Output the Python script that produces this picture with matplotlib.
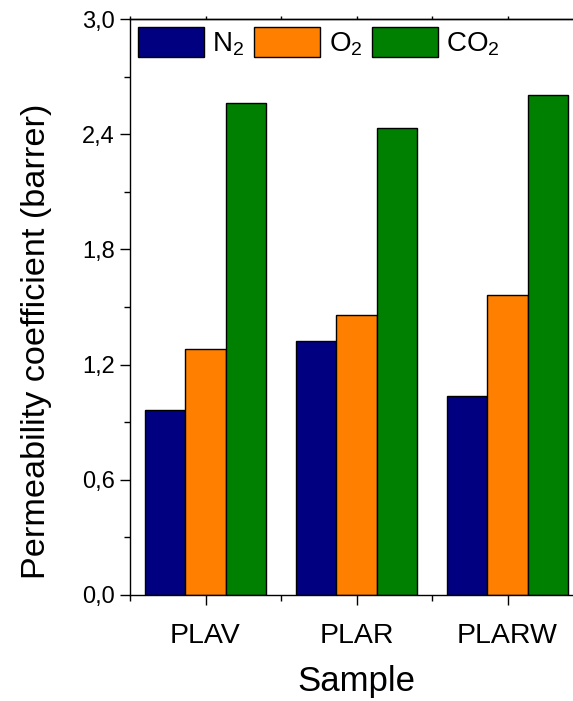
import numpy as np
import matplotlib.pyplot as plt
from matplotlib.ticker import MultipleLocator, FixedLocator

plt.rcParams['font.family'] = ['Liberation Sans', 'DejaVu Sans']
plt.rcParams['mathtext.fontset'] = 'custom'
plt.rcParams['mathtext.rm'] = 'Liberation Sans'

samples = ['PLAV', 'PLAR', 'PLARW']
gases = [r'$\mathregular{N_2}$', r'$\mathregular{O_2}$', r'$\mathregular{CO_2}$']
n2 = [0.965, 1.325, 1.036]
o2 = [1.283, 1.457, 1.564]
co2 = [2.564, 2.434, 2.603]
colors = ['#000080', '#FF8000', '#008000']

fig = plt.figure(figsize=(5.73, 7.01), dpi=100)
ax = fig.add_axes([130 / 573, 106 / 701, 453 / 573, 576 / 701])

x = np.arange(1, len(samples) + 1)
w = 0.8 / 3
for i, vals in enumerate([n2, o2, co2]):
    ax.bar(x + (i - 1) * w, vals, width=w, color=colors[i], edgecolor='black',
           linewidth=1.0, label=gases[i], zorder=2)

ax.set_xlim(0.5, 3.5)
ax.set_ylim(0, 3.0)
ax.set_xticks(x)
ax.set_xticklabels(samples)
ax.xaxis.set_minor_locator(FixedLocator([0.5, 1.5, 2.5, 3.5]))
ax.yaxis.set_major_locator(MultipleLocator(0.6))
ax.yaxis.set_minor_locator(MultipleLocator(0.3))
ax.yaxis.set_major_formatter(plt.FuncFormatter(lambda v, p: f'{v:.1f}'.replace('.', ',')))

ax.spines['right'].set_visible(False)
for s in ax.spines.values():
    s.set_linewidth(1.0)
ax.tick_params(axis='both', which='major', direction='out', length=7, width=1.0)
ax.tick_params(axis='both', which='minor', direction='out', length=4, width=1.0)
ax.tick_params(axis='x', which='major', labelsize=20.5, pad=13)
ax.tick_params(axis='y', which='major', labelsize=17, pad=4)

top = ax.secondary_xaxis('top')
top.set_xticks(x)
top.set_xticks([0.5, 1.5, 2.5, 3.5], minor=True)
top.tick_params(which='both', direction='out', length=2, width=1.0, labeltop=False)
top.spines['top'].set_linewidth(1.0)

ax.set_xlabel('Sample', fontsize=25, labelpad=12)
ax.set_ylabel('Permeability coefficient (barrer)', fontsize=24.7)
ax.yaxis.set_label_coords(-0.172, 0.441)

ax.legend(loc='upper left', bbox_to_anchor=(0.0, 1.0), ncol=3, frameon=False,
          fontsize=20, handlelength=2.37, handleheight=1.25, handletextpad=0.3,
          columnspacing=0.35, borderaxespad=0.2, borderpad=0.1)

fig.savefig('out.png', dpi=100)
